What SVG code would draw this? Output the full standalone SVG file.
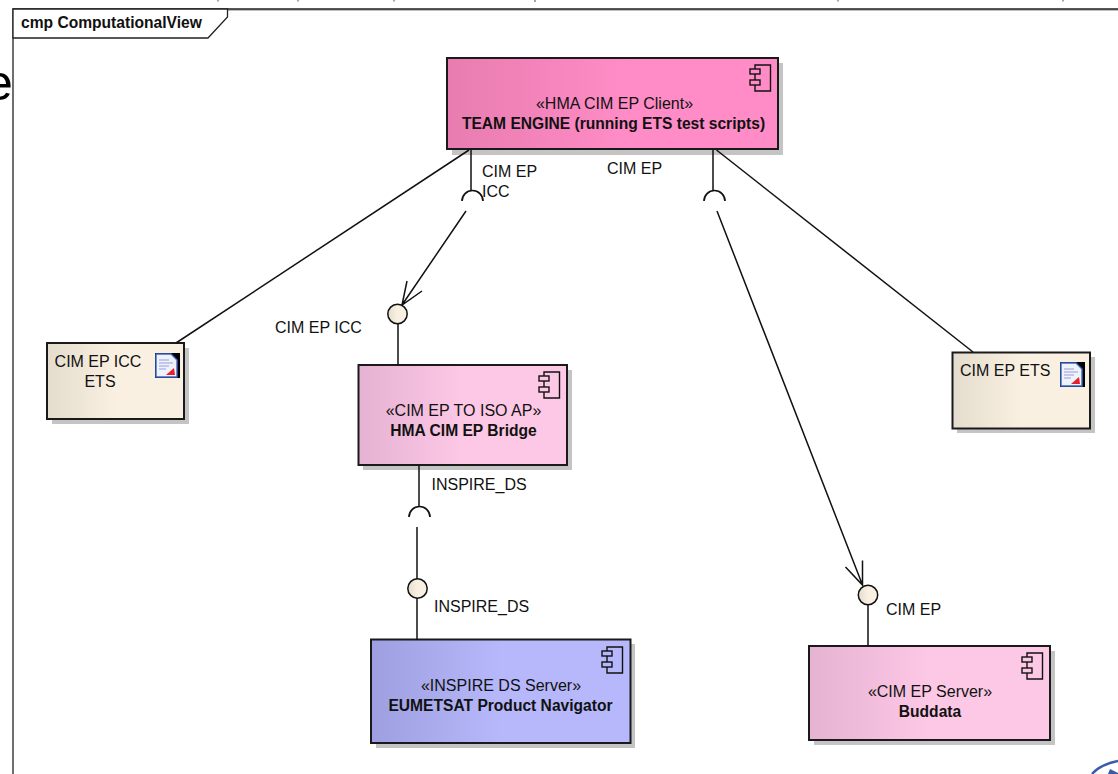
<svg xmlns="http://www.w3.org/2000/svg" width="1118" height="774" viewBox="0 0 1118 774">
<style>
text{font-family:"Liberation Sans",Arial,sans-serif;font-size:16px;fill:#111}
.b{font-weight:bold;font-size:15.6px}
.m{text-anchor:middle}
.box{stroke:#1a1a1a;stroke-width:2}
.sh{fill:#c4c4c4}
.ln{fill:none;stroke:#111;stroke-width:1.5}
.ball{fill:url(#gCream);stroke:#111;stroke-width:1.5}
.sock{fill:none;stroke:#111;stroke-width:1.7}
</style>
<defs>
<linearGradient id="gHot"><stop offset="0" stop-color="#e87cb0"/><stop offset=".55" stop-color="#ff8cc6"/></linearGradient>
<linearGradient id="gPink"><stop offset="0" stop-color="#e6b2d2"/><stop offset=".5" stop-color="#fdc8e6"/></linearGradient>
<linearGradient id="gBlue"><stop offset="0" stop-color="#9d9fe0"/><stop offset=".5" stop-color="#b6b8fb"/></linearGradient>
<linearGradient id="gCream"><stop offset="0" stop-color="#e4dccd"/><stop offset=".5" stop-color="#f9f0e2"/></linearGradient>
<g id="comp" fill="none" stroke="#111" stroke-width="1.4"><path d="M5 4V0H20.500V26H5V20M5 9V15"/><rect x="0" y="4" width="10" height="5"/><rect x="0" y="15" width="10" height="5"/></g>
<g id="doc"><rect width="25" height="25" fill="#000"/><path d="M1 1H16L22 7V24H1Z" fill="#eef2fb" stroke="#3d66c8" stroke-width="1.400"/><path d="M4 7H14M4 10H18M4 13H14M4 16H11" stroke="#9a9cdc" stroke-width="1.200"/><path d="M11 22L19 15L20 22Z" fill="#e8202c"/></g>
</defs>

<g id="frame">
<text x="-15" y="100" style="font-size:50px;fill:#000">e</text>
<path d="M13 10H1118" fill="none" stroke="#aaa" stroke-width="1.500"/>
<path d="M13 774V9H1118" fill="none" stroke="#222" stroke-width="1.300"/>
<path d="M13 9H227.500V17L208 38H13Z" fill="#fff" stroke="#222" stroke-width="1.300"/>
<text x="21" y="28" class="b">cmp ComputationalView</text>
<path d="M218 0V1.500M298 0V1.500M394 0V1.500M535 0V2M838 0V1.500M1063 0V1.500" stroke="#888" stroke-width="1.500"/>
</g>

<g id="team-engine">
<rect class="sh" x="452" y="63" width="331" height="92"/>
<rect class="box" x="447" y="58" width="331" height="91" fill="url(#gHot)"/>
<use href="#comp" x="750" y="65"/>
<text class="m" x="614.500" y="109">«HMA CIM EP Client»</text>
<text class="m b" x="613.500" y="129">TEAM ENGINE (running ETS test scripts)</text>
</g>

<g id="cim-ep-icc-ets">
<rect class="sh" x="52" y="348" width="137" height="76"/>
<rect class="box" x="47" y="343" width="137" height="76" fill="url(#gCream)"/>
<text class="m" x="98" y="367">CIM EP ICC</text>
<text class="m" x="100" y="387">ETS</text>
<use href="#doc" x="155" y="353"/>
</g>

<g id="bridge">
<rect class="sh" x="363" y="370" width="209" height="100"/>
<rect class="box" x="358.500" y="365" width="208.500" height="100" fill="url(#gPink)"/>
<use href="#comp" x="539" y="372"/>
<text class="m" x="463.500" y="416">«CIM EP TO ISO AP»</text>
<text class="m b" x="463.500" y="436">HMA CIM EP Bridge</text>
</g>

<g id="eumetsat">
<rect class="sh" x="376" y="644" width="259" height="104"/>
<rect class="box" x="371" y="639.500" width="259.500" height="103.500" fill="url(#gBlue)"/>
<use href="#comp" x="602" y="647"/>
<text class="m" x="501" y="691">«INSPIRE DS Server»</text>
<text class="m b" x="500.500" y="711">EUMETSAT Product Navigator</text>
</g>

<g id="buddata">
<rect class="sh" x="814" y="651" width="241" height="94"/>
<rect class="box" x="809" y="646" width="241" height="94" fill="url(#gPink)"/>
<use href="#comp" x="1022" y="653"/>
<text class="m" x="930" y="697">«CIM EP Server»</text>
<text class="m b" x="930" y="717">Buddata</text>
</g>

<g id="cim-ep-ets">
<rect class="sh" x="957" y="357" width="138" height="76"/>
<rect class="box" x="952.500" y="352.500" width="137.500" height="76" fill="url(#gCream)"/>
<text x="960" y="376">CIM EP ETS</text>
<use href="#doc" x="1060" y="362"/>
</g>

<g id="connectors">
<path class="ln" d="M469 150L176 343"/>
<path class="ln" d="M471 150V190"/>
<path class="sock" d="M462 201A10.500 10.500 0 0 1 483 201"/>
<path class="ln" d="M466 211L402 305M422 291L402 305L407 281"/>
<path class="ln" d="M398 324V365"/>
<path class="ln" d="M713 150V190"/>
<path class="sock" d="M704 201A10.500 10.500 0 0 1 725 201"/>
<path class="ln" d="M716.500 150L973 352"/>
<path class="ln" d="M717 211L862.500 585M845.500 567L862.500 585L862.500 560.500"/>
<path class="ln" d="M868 605V646"/>
<path class="ln" d="M419 466V507"/>
<path class="sock" d="M409 517A10.500 10.500 0 0 1 430 517"/>
<path class="ln" d="M417 527V579"/>
<path class="ln" d="M417 598V640"/>
</g>

<g id="balls">
<circle class="ball" cx="397.500" cy="314" r="9.700"/>
<circle class="ball" cx="417.500" cy="588.500" r="9.700"/>
<circle class="ball" cx="868" cy="595" r="9.700"/>
</g>

<g id="labels">
<text x="482" y="177">CIM EP</text>
<text x="482" y="197">ICC</text>
<text x="607" y="174">CIM EP</text>
<text x="275" y="333">CIM EP ICC</text>
<text x="431.500" y="490">INSPIRE_DS</text>
<text x="434" y="611.500">INSPIRE_DS</text>
<text x="886" y="615">CIM EP</text>
</g>

<g id="corner-mark">
<path d="M1092 774C1098 767 1108 763 1118 761" fill="none" stroke="#3a5ca8" stroke-width="2.500"/>
<path d="M1108 774L1110 769L1118 773V774Z" fill="#3a5ca8"/>
</g>
</svg>
